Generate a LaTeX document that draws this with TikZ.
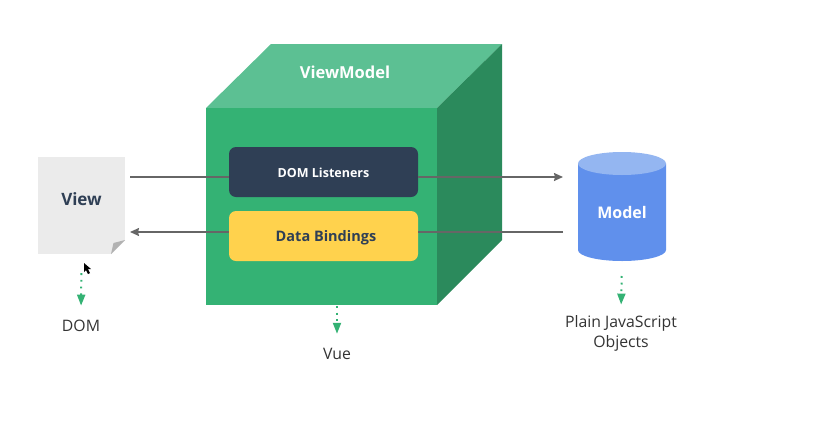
\documentclass[tikz,border=0pt]{standalone}
\usepackage{fontspec}
\setmainfont{Open Sans}
\usetikzlibrary{arrows.meta}
\definecolor{cubefront}{HTML}{34B274}
\definecolor{cubetop}{HTML}{5CC093}
\definecolor{cubeside}{HTML}{2B8A5C}
\definecolor{navy}{HTML}{2F3F55}
\definecolor{amber}{HTML}{FFD24D}
\definecolor{modelbody}{HTML}{6090EC}
\definecolor{modeltop}{HTML}{94B6F1}
\definecolor{paper}{HTML}{EBEBEB}
\definecolor{flowgray}{HTML}{666666}
\definecolor{caption}{HTML}{333333}
\begin{document}
\begin{tikzpicture}[x=1pt,y=-1pt, >={Stealth[length=9pt,width=8pt,inset=1pt]},
    flow/.style={draw=flowgray, line width=1.6pt},
    dots/.style={-{Stealth[length=11pt,width=8pt,inset=0pt,fill=cubefront]}, draw=cubefront, line width=2pt, dash pattern=on 1.8pt off 4.9pt},
    bar/.style={rectangle, rounded corners=7pt, minimum width=189pt, minimum height=50pt, font=\bfseries\fontsize{12.5}{15}\selectfont},
    caption/.style={text=caption, align=center, font=\fontsize{15.8}{20}\selectfont}]
    \useasboundingbox (0,0) rectangle (829,426);
    % cube
    \fill[cubetop] (206,108) -- (271,44) -- (502,44) -- (437,108) -- cycle;
    \fill[cubeside] (437,108) -- (502,44) -- (502,240) -- (437,305) -- cycle;
    \fill[cubefront] (206,108) rectangle (437,305);
    \node[text=white, font=\bfseries\fontsize{16.5}{18}\selectfont] (vm) at (345,72) {ViewModel};
    % view
    \node[fill=paper, minimum width=87pt, minimum height=97pt, text=navy, font=\bfseries\fontsize{17}{19}\selectfont] (view) at (81.5,205.5) {\raisebox{13pt}{View}};
    \fill[white] (125.5,240) -- (125.5,254.5) -- (111,254.5) -- cycle;
    \fill[gray!60] (125,240) -- (111,254) -- (113.5,243) -- cycle;
    % model
    \fill[modelbody] (578,163.5) -- (578,250) arc[start angle=180, end angle=360, x radius=44pt, y radius=11pt] -- (666,163.5) -- cycle;
    \fill[modeltop] (622,163.5) ellipse[x radius=44pt, y radius=11.5pt];
    \node[text=white, font=\bfseries\fontsize{16}{18}\selectfont] (model) at (622,212) {Model};
    \coordinate (modelfoot) at (622,261);
    % bars
    \node[bar, fill=navy, text=white] (listeners) at (323.5,172) {\raisebox{-5.5pt}[0pt][0pt]{DOM Listeners}};
    \node[bar, fill=amber, text=navy, font=\bfseries\fontsize{14.5}{15}\selectfont] (bindings) at (323.5,236) {\hspace{5pt}\raisebox{-5.6pt}[0pt][0pt]{Data Bindings}};
    % captions
    \node[caption] (dom) at (81,326) {DOM};
    \node[caption] (vue) at (337,354) {Vue};
    \node[caption] (objects) at (621,333) {Plain JavaScript\\Objects};
    % flows
    \coordinate (viewin) at (130,177);
    \coordinate (modelin) at (563,177);
    \coordinate (viewout) at (130,232);
    \coordinate (modelout) at (563,232);
    \draw[flow] (viewin) -- (listeners.west |- viewin);
    \draw[flow,->] (listeners.east |- viewin) -- (modelin);
    \draw[flow] (modelout) -- (bindings.east |- modelout);
    \draw[flow,->] (bindings.west |- modelout) -- (viewout);
    % dotted
    \draw[dots, shorten <=19pt, shorten >=11pt] (view.south) -- (dom.north);
    \draw[dots, shorten >=11pt] (337,306) -- (vue.north);
    \draw[dots, shorten <=15pt, shorten >=7pt] (modelfoot) -- (objects.north);
    % cursor
    \fill[black] (84,263) -- (84,272) -- (86,270) -- (88,274) -- (90,273) -- (88,269) -- (91,269) -- cycle;
\end{tikzpicture}
\end{document}
